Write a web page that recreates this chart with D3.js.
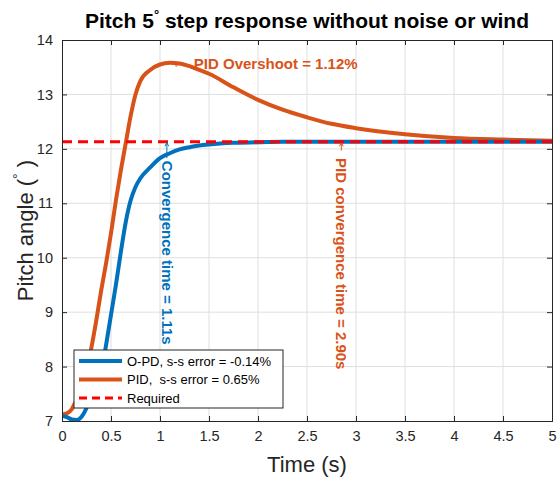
<!DOCTYPE html>
<html>
<head>
<meta charset="utf-8">
<script src="https://cdn.jsdelivr.net/npm/d3@7"></script>
<style>
  body { margin: 0; background: #fff; }
  text { font-family: "Liberation Sans", Arial, sans-serif; }
</style>
</head>
<body>
<div id="chart"></div>
<script>
// data
const time = [0,0.05,0.1,0.15,0.2,0.25,0.3,0.35,0.4,0.45,0.5,0.55,0.6,0.65,0.7,0.75,0.8,0.9,1.0,1.1,1.2,1.3,1.4,1.5,1.75,2,2.25,2.5,2.75,3,3.5,4,4.5,5];
const opd = [7.1,7.07,7.03,7.02,7.08,7.24,7.5,7.7,7.9,8.4,8.95,9.5,10.1,10.65,11.05,11.3,11.46,11.66,11.83,11.92,11.99,12.03,12.06,12.08,12.11,12.12,12.13,12.13,12.13,12.13,12.13,12.13,12.13,12.13];
const pid = [7.12,7.14,7.22,7.4,7.6,7.95,8.35,8.85,9.4,9.9,10.45,11.05,11.6,12.1,12.6,13.0,13.25,13.45,13.55,13.58,13.57,13.52,13.45,13.38,13.13,12.9,12.72,12.58,12.46,12.38,12.27,12.2,12.17,12.15];
const required = 12.13;
const xTicks = [0,0.5,1,1.5,2,2.5,3,3.5,4,4.5,5];
const yTicks = [7,8,9,10,11,12,13,14];
const legendLabels = ["O-PD, s-s error = -0.14%", "PID,  s-s error = 0.65%", "Required"];

const W = 557, H = 478;
const margin = {top: 40, right: 5, bottom: 57, left: 62};
const width = W - margin.left - margin.right,
  height = H - margin.top - margin.bottom;

const blue = "#0072BD", orange = "#D95319", red = "#FF0000", axisCol = "#262626";

const svg = d3.select("#chart").append("svg")
  .attr("width", W).attr("height", H);

const g = svg.append("g")
  .attr("transform", `translate(${margin.left},${margin.top})`);

const x = d3.scaleLinear().domain([0, 5]).range([0, width]);
const y = d3.scaleLinear().domain([7, 14]).range([height, 0]);

// grid
g.append("g").selectAll("line").data(xTicks.slice(1, -1)).join("line")
  .attr("x1", d => x(d)).attr("x2", d => x(d))
  .attr("y1", 0).attr("y2", height)
  .attr("stroke", "#dfdfdf").attr("stroke-width", 1);
g.append("g").selectAll("line").data(yTicks.slice(1, -1)).join("line")
  .attr("y1", d => y(d)).attr("y2", d => y(d))
  .attr("x1", 0).attr("x2", width)
  .attr("stroke", "#dfdfdf").attr("stroke-width", 1);

// clip for lines
svg.append("defs").append("clipPath").attr("id", "clip")
  .append("rect").attr("width", width).attr("height", height);

const line = d3.line()
  .x((d, i) => x(time[i]))
  .y(d => y(d))
  .curve(d3.curveMonotoneX);

const plot = g.append("g").attr("clip-path", "url(#clip)");

plot.append("path").datum(pid).attr("d", line)
  .attr("fill", "none").attr("stroke", orange).attr("stroke-width", 4);
plot.append("path").datum(opd).attr("d", line)
  .attr("fill", "none").attr("stroke", blue).attr("stroke-width", 4);
plot.append("line")
  .attr("x1", 0).attr("x2", width)
  .attr("y1", y(required)).attr("y2", y(required))
  .attr("stroke", red).attr("stroke-width", 3)
  .attr("stroke-dasharray", "10,6");

// axes (inward ticks, box)
const fmt = d3.format("~g");
const xAxis = d3.axisBottom(x).tickValues(xTicks).tickSize(-5).tickPadding(10).tickFormat(fmt);
const yAxis = d3.axisLeft(y).tickValues(yTicks).tickSize(-5).tickPadding(9).tickFormat(fmt);

g.append("g").attr("transform", `translate(0,${height})`).call(xAxis);
g.append("g").call(yAxis);
g.append("g").call(d3.axisTop(x).tickValues(xTicks).tickSize(-5).tickFormat(""));
g.append("g").attr("transform", `translate(${width},0)`).call(d3.axisRight(y).tickValues(yTicks).tickSize(-5).tickFormat(""));

g.selectAll(".domain").attr("stroke", axisCol);
g.selectAll(".tick line").attr("stroke", axisCol);
g.selectAll(".tick text").attr("fill", axisCol).style("font-size", "14.5px")
  .style("font-family", "Liberation Sans, Arial, sans-serif");

// title
const title = svg.append("text")
  .attr("x", margin.left + width / 2).attr("y", 28)
  .attr("text-anchor", "middle")
  .style("font-size", "21px").style("font-weight", "bold").attr("fill", "#000");
title.append("tspan").text("Pitch 5");
title.append("tspan").attr("dy", -9).style("font-size", "13px").text("°");
title.append("tspan").attr("dy", 9).text(" step response without noise or wind");

// axis labels
svg.append("text")
  .attr("x", margin.left + width / 2).attr("y", 472)
  .attr("text-anchor", "middle").attr("fill", axisCol)
  .style("font-size", "22px").text("Time (s)");

const yl = svg.append("text")
  .attr("transform", `translate(33,${margin.top + height / 2}) rotate(-90)`)
  .attr("text-anchor", "middle").attr("fill", axisCol)
  .style("font-size", "22px");
yl.append("tspan").text("Pitch angle (");
yl.append("tspan").attr("dy", -10).style("font-size", "14px").text("°");
yl.append("tspan").attr("dy", 10).text(" )");

// annotations
function arrow(x1, y1, x2, y2, col) {
  const a = Math.atan2(y2 - y1, x2 - x1), s = 4;
  g.append("line").attr("x1", x1).attr("y1", y1).attr("x2", x2).attr("y2", y2)
    .attr("stroke", col).attr("stroke-width", 1);
  g.append("path")
    .attr("d", `M${x2 - s * Math.cos(a - 0.5)},${y2 - s * Math.sin(a - 0.5)}L${x2},${y2}L${x2 - s * Math.cos(a + 0.5)},${y2 - s * Math.sin(a + 0.5)}`)
    .attr("fill", "none").attr("stroke", col).attr("stroke-width", 1);
}

// overshoot
arrow(x(1.18), y(13.53), x(1.16), y(13.58), orange);
g.append("text").attr("x", x(1.345)).attr("y", y(13.58) + 6)
  .attr("fill", orange).style("font-size", "15px").style("font-weight", "bold")
  .text("PID Overshoot = 1.12%");

// O-PD convergence
arrow(x(1.07), y(11.83), x(1.07), y(required) + 1, blue);
g.append("text")
  .attr("transform", `translate(${x(1.07) - 5},${y(11.78)}) rotate(90)`)
  .attr("fill", blue).style("font-size", "15px").style("font-weight", "bold")
  .text("Convergence time = 1.11s");

// PID convergence
arrow(x(2.85), y(11.97), x(2.85), y(required) + 1, orange);
g.append("text")
  .attr("transform", `translate(${x(2.85) - 5},${y(11.83)}) rotate(90)`)
  .attr("fill", orange).style("font-size", "15px").style("font-weight", "bold")
  .text("PID convergence time = 2.90s");

// legend
const lg = svg.append("g").attr("transform", "translate(74,350)");
lg.append("rect").attr("width", 209).attr("height", 58)
  .attr("fill", "#fff").attr("stroke", axisCol).attr("stroke-width", 1);
const styles = [
  {col: blue, w: 4, dash: null},
  {col: orange, w: 4, dash: null},
  {col: red, w: 3, dash: "8,5"}
];
legendLabels.forEach((lab, i) => {
  const yy = 11 + i * 18.5;
  lg.append("line").attr("x1", 5).attr("x2", 48).attr("y1", yy).attr("y2", yy)
    .attr("stroke", styles[i].col).attr("stroke-width", styles[i].w)
    .attr("stroke-dasharray", styles[i].dash);
  lg.append("text").attr("x", 53).attr("y", yy + 4.5)
    .attr("fill", "#000").style("font-size", "13px").style("white-space", "pre")
    .text(lab);
});
</script>
</body>
</html>
